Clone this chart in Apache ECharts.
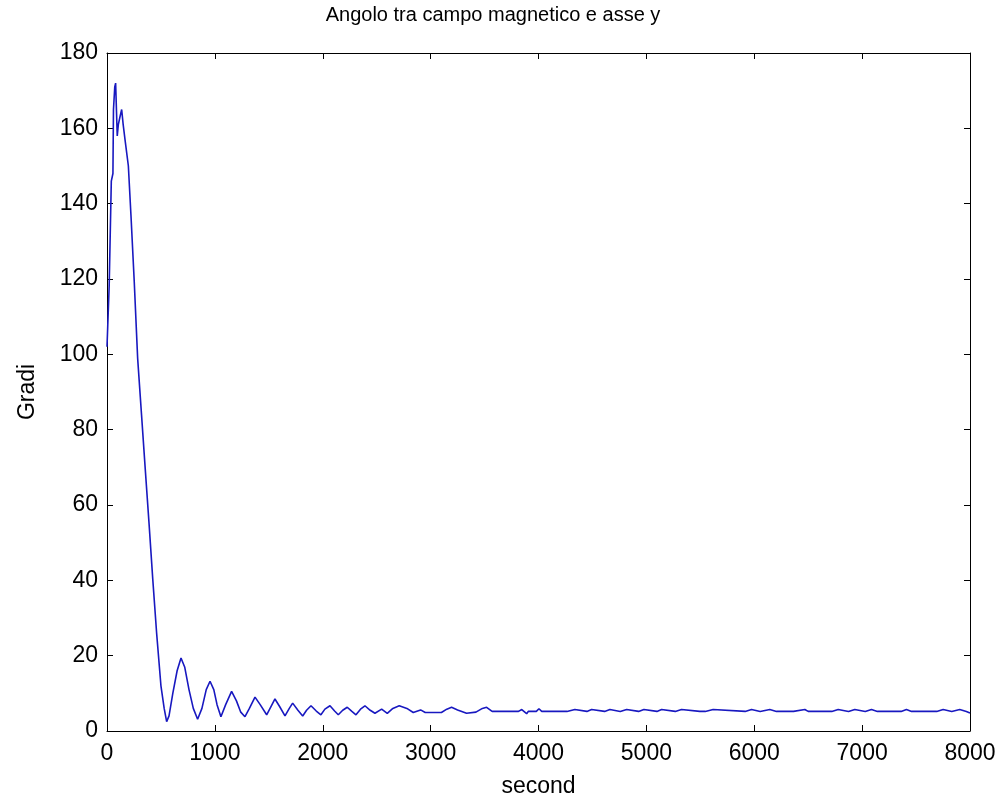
<!DOCTYPE html>
<html>
<head>
<meta charset="utf-8">
<script src="https://cdn.jsdelivr.net/npm/echarts@6/dist/echarts.min.js"></script>
<style>
  html, body { margin: 0; padding: 0; background: #ffffff; }
  #chart { width: 997px; height: 798px; }
</style>
</head>
<body>
<div id="chart"></div>
<script>
// ---- data ----
const titleText = 'Angolo tra campo magnetico e asse y';
const xName = 'second';
const yName = 'Gradi';
const xTicks = [0, 1000, 2000, 3000, 4000, 5000, 6000, 7000, 8000];
const yTicks = [0, 20, 40, 60, 80, 100, 120, 140, 160, 180];

const timeSec = [
  0, 15, 20, 35, 40, 55, 60, 72, 80, 95,
  105, 120, 136, 150, 167, 198, 222, 253, 284, 320,
  352, 390, 425, 460, 500, 530, 553, 575, 610, 650,
  686, 720, 760, 800, 840, 880, 920, 955, 990, 1020,
  1056, 1100, 1155, 1200, 1240, 1279, 1320, 1372, 1420, 1480,
  1520, 1557, 1600, 1650, 1690, 1721, 1770, 1814, 1850, 1891,
  1940, 1983, 2020, 2067, 2110, 2144, 2185, 2227, 2270, 2308,
  2350, 2391, 2440, 2484, 2546, 2598, 2650, 2709, 2780, 2839,
  2907, 2950, 3100, 3150, 3194, 3250, 3333, 3420, 3480, 3519,
  3570, 3735, 3751, 3770, 3815, 3828, 3845, 3858, 3890, 3905,
  3980, 4004, 4030, 4200, 4214, 4230, 4264, 4276, 4337, 4349,
  4449, 4461, 4492, 4504, 4613, 4625, 4662, 4674, 4758, 4770,
  4817, 4829, 4928, 4940, 4977, 4989, 5098, 5110, 5141, 5153,
  5268, 5280, 5326, 5338, 5495, 5511, 5527, 5546, 5558, 5619,
  5631, 5916, 5928, 5975, 5987, 6055, 6067, 6144, 6156, 6206,
  6222, 6238, 6364, 6376, 6469, 6481, 6500, 6515, 6530, 6719,
  6731, 6778, 6790, 6874, 6886, 6932, 6944, 7029, 7041, 7087,
  7099, 7142, 7158, 7174, 7362, 7374, 7411, 7423, 7458, 7473,
  7488, 7692, 7704, 7751, 7763, 7831, 7843, 7905, 7917, 7966,
  7982, 8000
];
const angleDeg = [
  102, 102, 118, 118, 146, 148, 165, 171, 172, 158,
  161, 163, 165, 161, 157, 150, 137, 119, 99, 84,
  70.6, 55, 40, 26, 12, 6, 2.5, 4, 10, 16,
  19.4, 17, 11, 6, 3.1, 6, 11, 13.2, 11, 7,
  3.8, 7, 10.5, 8, 5, 3.8, 6, 9.0, 7, 4.3,
  6.5, 8.5, 6.5, 4.0, 6, 7.4, 5.5, 4.0, 5.5, 6.7,
  5.3, 4.3, 5.8, 6.7, 5.3, 4.3, 5.5, 6.3, 5.2, 4.3,
  5.8, 6.7, 5.5, 4.7, 5.8, 4.7, 6, 6.7, 6, 4.9,
  5.6, 4.9, 4.9, 5.8, 6.3, 5.6, 4.7, 5, 6, 6.3,
  5.2, 5.2, 4.7, 5.2, 5.2, 5.7, 5.7, 5.2, 4.6, 5.2,
  5.2, 5.9, 5.2, 5.2, 4.8, 5.2, 5.2, 5.7, 5.7, 5.2,
  5.2, 5.7, 5.7, 5.2, 5.2, 5.7, 5.7, 5.2, 5.2, 5.7,
  5.7, 5.2, 5.2, 5.7, 5.7, 5.2, 5.2, 5.7, 5.7, 5.2,
  5.2, 5.7, 5.7, 5.2, 5.2, 4.8, 5.2, 5.2, 5.7, 5.7,
  5.2, 5.2, 5.7, 5.7, 5.2, 5.2, 5.7, 5.7, 5.2, 5.2,
  4.8, 5.2, 5.2, 5.7, 5.7, 5.2, 5.2, 4.8, 5.2, 5.2,
  5.7, 5.7, 5.2, 5.2, 5.7, 5.7, 5.2, 5.2, 5.7, 5.7,
  5.2, 5.2, 4.8, 5.2, 5.2, 5.7, 5.7, 5.2, 5.2, 4.8,
  5.2, 5.2, 5.7, 5.7, 5.2, 5.2, 5.7, 5.7, 5.2, 5.2,
  4.8, 4.8
];

const seriesData = timeSec.map((t, i) => [t, angleDeg[i]]);

const FONT = '"Liberation Sans", Arial, sans-serif';
const axisLine = { show: true, onZero: false, lineStyle: { color: '#000', width: 1 } };
const tick = { show: true, inside: true, length: 6, lineStyle: { color: '#000', width: 1 } };
const plainNum = v => String(v);

const chart = echarts.init(document.getElementById('chart'), null, { renderer: 'canvas' });
chart.setOption({
  backgroundColor: '#ffffff',
  animation: false,
  title: {
    text: titleText,
    left: 488,
    textAlign: 'center',
    top: 0,
    textStyle: { fontFamily: FONT, fontSize: 20, fontWeight: 'normal', color: '#000' }
  },
  grid: { left: 107, right: 27, top: 53, bottom: 67, containLabel: false, outerBoundsMode: 'none' },
  xAxis: [
    {
      type: 'value', min: xTicks[0], max: xTicks[xTicks.length - 1], interval: 1000, position: 'bottom',
      name: xName, nameLocation: 'middle', nameGap: 44,
      nameTextStyle: { fontFamily: FONT, fontSize: 23, color: '#000' },
      axisLine, axisTick: tick,
      axisLabel: { fontFamily: FONT, fontSize: 23, color: '#000', margin: 11, formatter: plainNum },
      splitLine: { show: false }
    },
    {
      type: 'value', min: xTicks[0], max: xTicks[xTicks.length - 1], interval: 1000, position: 'top',
      axisLine, axisTick: tick, axisLabel: { show: false }, splitLine: { show: false }
    }
  ],
  yAxis: [
    {
      type: 'value', min: yTicks[0], max: yTicks[yTicks.length - 1], interval: 20, position: 'left',
      name: yName, nameLocation: 'middle', nameGap: 68, nameRotate: 90,
      nameTextStyle: { fontFamily: FONT, fontSize: 23, color: '#000' },
      axisLine, axisTick: tick,
      axisLabel: { fontFamily: FONT, fontSize: 23, color: '#000', margin: 9, formatter: plainNum },
      splitLine: { show: false }
    },
    {
      type: 'value', min: yTicks[0], max: yTicks[yTicks.length - 1], interval: 20, position: 'right',
      axisLine, axisTick: tick, axisLabel: { show: false }, splitLine: { show: false }
    }
  ],
  series: [
    {
      type: 'line',
      xAxisIndex: 0, yAxisIndex: 0,
      data: seriesData,
      showSymbol: false,
      symbol: 'none',
      lineStyle: { color: '#1818c0', width: 1.6 },
      clip: true
    }
  ]
});
</script>
</body>
</html>
